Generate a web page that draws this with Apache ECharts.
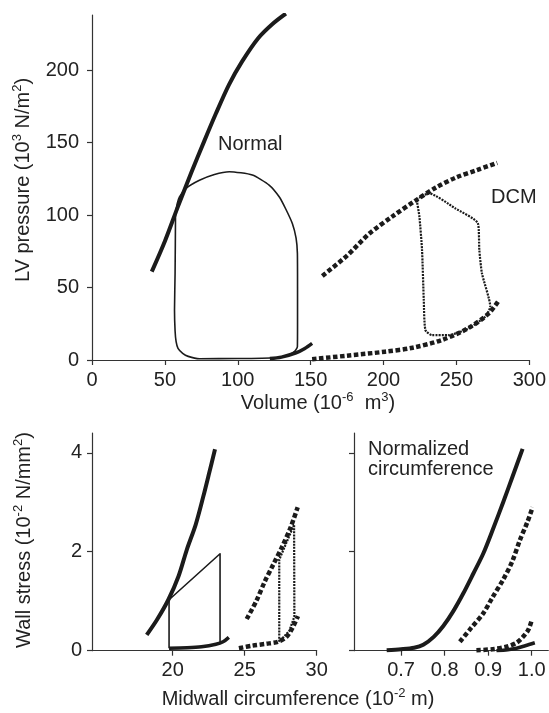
<!DOCTYPE html>
<html>
<head>
<meta charset="utf-8">
<title>PV loops</title>
<script src="https://cdn.jsdelivr.net/npm/echarts@6/dist/echarts.min.js"></script>
<style>
html, body { margin: 0; padding: 0; background: #fff; }
#main { width: 549px; height: 713px; }
</style>
</head>
<body>
<div id="main"></div>
<script>
// ---- data ----
// top panel: volume (10^-6 m3) / pressure (10^3 N/m2)
var normEsV = [41, 50, 59, 68, 77, 85, 94, 103, 114, 124, 133];
var normEsP = [61, 82, 106, 129, 151, 170, 190, 206, 222, 232, 239];
var normLoopV = [57.3, 58.5, 60, 64.5, 73.7, 84, 94.2, 110, 121.5, 128.4, 133, 137.5, 140, 140.9, 141, 141, 140.9, 139, 134, 126, 100, 73.7, 66, 62.2, 59, 57.7, 57, 56.6, 57, 57.3];
var normLoopP = [101, 108, 112.6, 118.4, 124, 128, 129.9, 127.6, 120.7, 112.6, 104, 94, 84, 73.6, 50, 25, 9.2, 6, 3, 1.6, 1, 0.9, 2.5, 4.6, 8, 12.6, 20, 34.5, 60, 101];
var normEdV = [122, 130, 140, 146, 151];
var normEdP = [1, 2, 5, 8, 11.5];
var dcmEsV = [158, 175, 190, 206, 222, 236, 250, 264, 278];
var dcmEsP = [58, 72, 87, 99, 110, 119, 126, 131, 136];
var dcmLoopV = [222.7, 231, 249.2, 264.7, 265.7, 267.5, 273.2, 269.8, 258.3, 244.7, 233.2, 228.7, 227.6, 226.4, 224.6, 222.7];
var dcmLoopP = [110.8, 115, 104.6, 94.3, 75.9, 59.8, 36.8, 29.9, 21.9, 17.2, 17.2, 20.7, 41.4, 75.9, 98.8, 110.8];
var dcmEdV = [151, 175, 201, 220, 240, 258, 272, 279];
var dcmEdP = [0.5, 3, 5.7, 8.5, 13.8, 21.9, 32, 41];

// bottom left: midwall circumference (10^-2 m) / wall stress (10^-2 N/mm2)
var normEssC = [18.2, 18.9, 19.7, 20.4, 20.98, 21.6, 22.13, 22.5, 22.94];
var normEssS = [0.32, 0.62, 1.03, 1.5, 2.04, 2.55, 3.12, 3.55, 4.07];
var normStressLoopC = [19.75, 19.75, 23.29, 23.29];
var normStressLoopS = [0.05, 1.03, 1.96, 0.15];
var normEdsC = [19.75, 21, 22, 23, 23.5, 23.9];
var normEdsS = [0.05, 0.06, 0.08, 0.13, 0.18, 0.27];
var dcmEssC = [25.14, 25.8, 26.4, 27.0, 27.6, 28.2, 28.68];
var dcmEssS = [0.64, 1.0, 1.4, 1.75, 2.1, 2.5, 2.9];
var dcmStressLoopC = [27.4, 27.4, 28.43, 28.45, 28.1, 27.4];
var dcmStressLoopS = [0.18, 1.84, 2.55, 0.69, 0.4, 0.18];
var dcmEdsC = [24.6, 25.5, 26.5, 27.3, 27.9, 28.3, 28.7];
var dcmEdsS = [0.05, 0.1, 0.14, 0.18, 0.28, 0.45, 0.7];

// bottom right: normalized circumference / wall stress
var nNormEssC = [0.667, 0.70, 0.73, 0.751, 0.775, 0.797, 0.82, 0.843, 0.866, 0.889, 0.912, 0.934, 0.956, 0.979];
var nNormEssS = [0.01, 0.03, 0.06, 0.12, 0.28, 0.5, 0.8, 1.16, 1.56, 1.97, 2.48, 2.99, 3.52, 4.08];
var nDcmEssC = [0.835, 0.86, 0.889, 0.91, 0.934, 0.955, 0.973, 0.99, 1.002];
var nDcmEssS = [0.18, 0.45, 0.76, 1.08, 1.43, 1.8, 2.24, 2.6, 2.9];
var nDcmEdsC = [0.873, 0.91, 0.942, 0.965, 0.98, 0.992, 0.999];
var nDcmEdsS = [0.01, 0.03, 0.08, 0.16, 0.28, 0.42, 0.59];
var nNormEdsC = [0.919, 0.945, 0.965, 0.985, 1.007];
var nNormEdsS = [0.0, 0.02, 0.05, 0.1, 0.16];

var volTicks = [0, 50, 100, 150, 200, 250, 300];
var presTicks = [0, 50, 100, 150, 200];
var circTicks = [20, 25, 30];
var normCircTicks = [0.7, 0.8, 0.9, 1.0];
var stressTicks = [0, 2, 4];

function pts(xs, ys) {
    var out = [];
    for (var i = 0; i < xs.length; i++) out.push([xs[i], ys[i]]);
    return out;
}

var ink = '#1b1b1b';
var txt = '#222';
var font = 'Liberation Sans, Arial, sans-serif';

function axis(gi, min, max, ticks, showLabels, fmt, margin) {
    return {
        type: 'value', gridIndex: gi, min: min, max: max,
        splitLine: { show: false },
        axisLine: { onZero: false, lineStyle: { color: '#333', width: 1.2 } },
        axisTick: { show: true, inside: false, length: 5, customValues: ticks, lineStyle: { color: '#333', width: 1.2 } },
        axisLabel: { show: showLabels, customValues: ticks, color: txt, fontSize: 20, fontFamily: font, margin: margin, formatter: fmt }
    };
}

function line(name, xi, yi, data, width, type, smooth) {
    return {
        name: name, type: 'line', xAxisIndex: xi, yAxisIndex: yi,
        data: data, showSymbol: false, symbol: 'none', smooth: smooth, animation: false,
        lineStyle: { color: ink, width: width, type: type, cap: 'butt', join: 'round' }
    };
}

var thickDash = [4.5, 2.5];
var thinDot = [2, 1.1];

var chart = echarts.init(document.getElementById('main'));

var option = {
    animation: false,
    grid: [
        { left: 92, right: 18, top: 15, height: 345 },
        { left: 92, width: 224.7, top: 433, height: 217.7 },
        { left: 354, width: 194.3, top: 433, height: 217.7 }
    ],
    xAxis: [
        axis(0, 0, 300, volTicks, true, null, 10),
        axis(1, 14.4, 30, circTicks, true, null, 10),
        axis(2, 0.592, 1.038, normCircTicks, true, function (v) { return v.toFixed(1); }, 10)
    ],
    yAxis: [
        axis(0, 0, 238, presTicks, true, null, 13),
        axis(1, 0, 4.4, stressTicks, true, null, 10),
        axis(2, 0, 4.4, stressTicks, false, null, 10)
    ],
    series: [
        line('Normal ESPVR', 0, 0, pts(normEsV, normEsP), 4, 'solid', 0.3),
        line('Normal loop', 0, 0, pts(normLoopV, normLoopP), 1.6, 'solid', 0.2),
        line('Normal EDPVR', 0, 0, pts(normEdV, normEdP), 3.5, 'solid', 0.3),
        line('DCM ESPVR', 0, 0, pts(dcmEsV, dcmEsP), 4.5, thickDash, 0.3),
        line('DCM loop', 0, 0, pts(dcmLoopV, dcmLoopP), 2.2, thinDot, 0.2),
        line('DCM EDPVR', 0, 0, pts(dcmEdV, dcmEdP), 4.5, thickDash, 0.3),

        line('Normal ESSR', 1, 1, pts(normEssC, normEssS), 4, 'solid', 0.3),
        line('Normal stress loop', 1, 1, pts(normStressLoopC, normStressLoopS), 1.6, 'solid', false),
        line('Normal EDSR', 1, 1, pts(normEdsC, normEdsS), 3.5, 'solid', 0.3),
        line('DCM ESSR', 1, 1, pts(dcmEssC, dcmEssS), 4.5, thickDash, 0.3),
        line('DCM stress loop', 1, 1, pts(dcmStressLoopC, dcmStressLoopS), 2.2, thinDot, false),
        line('DCM EDSR', 1, 1, pts(dcmEdsC, dcmEdsS), 4.5, thickDash, 0.3),

        line('Normal ESSR norm', 2, 2, pts(nNormEssC, nNormEssS), 4, 'solid', 0.3),
        line('DCM ESSR norm', 2, 2, pts(nDcmEssC, nDcmEssS), 4.5, thickDash, 0.3),
        line('DCM EDSR norm', 2, 2, pts(nDcmEdsC, nDcmEdsS), 4.5, thickDash, 0.3),
        line('Normal EDSR norm', 2, 2, pts(nNormEdsC, nNormEdsS), 3.5, 'solid', 0.3)
    ],
    graphic: [
        { type: 'text', left: 218, top: 134, style: { text: 'Normal', fill: txt, font: '20px ' + font } },
        { type: 'text', left: 491, top: 187, style: { text: 'DCM', fill: txt, font: '20px ' + font } },
        { type: 'text', left: 368, top: 439, style: { text: 'Normalized\ncircumference', fill: txt, font: '20px ' + font, lineHeight: 20 } },
        {
            type: 'text', x: 318, y: 403,
            style: {
                text: 'Volume (10{sup|-6}  m{sup|3})', fill: txt, font: '20px ' + font,
                align: 'center', verticalAlign: 'middle',
                rich: { sup: { fontSize: 13, fontFamily: font, fill: txt, padding: [0, 0, 11, 0] } }
            }
        },
        {
            type: 'text', x: 23, y: 180, rotation: Math.PI / 2,
            style: {
                text: 'LV pressure (10{sup|3} N/m{sup|2})', fill: txt, font: '20px ' + font,
                align: 'center', verticalAlign: 'middle',
                rich: { sup: { fontSize: 13, fontFamily: font, fill: txt, padding: [0, 0, 11, 0] } }
            }
        },
        {
            type: 'text', x: 24, y: 540, rotation: Math.PI / 2,
            style: {
                text: 'Wall stress (10{sup|-2} N/mm{sup|2})', fill: txt, font: '20px ' + font,
                align: 'center', verticalAlign: 'middle',
                rich: { sup: { fontSize: 13, fontFamily: font, fill: txt, padding: [0, 0, 11, 0] } }
            }
        },
        {
            type: 'text', x: 298, y: 699,
            style: {
                text: 'Midwall circumference (10{sup|-2} m)', fill: txt, font: '20px ' + font,
                align: 'center', verticalAlign: 'middle',
                rich: { sup: { fontSize: 13, fontFamily: font, fill: txt, padding: [0, 0, 11, 0] } }
            }
        }
    ]
};
chart.setOption(option);
</script>
</body>
</html>
